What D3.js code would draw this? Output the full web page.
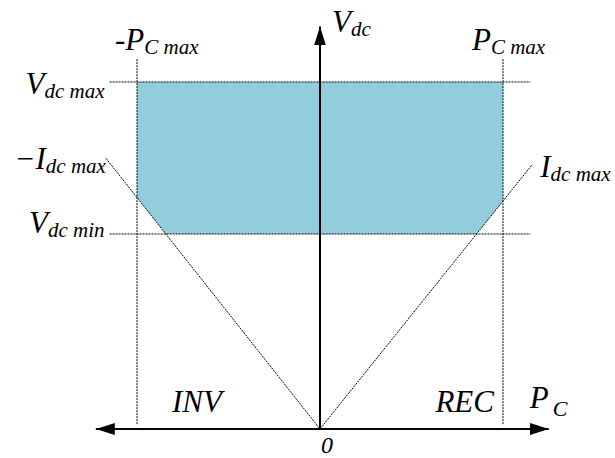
<!DOCTYPE html>
<html lang="en">
    <head>
        <meta charset="utf-8">
        <title>DC voltage / power operating region</title>
        <script src="https://d3js.org/d3.v7.min.js"></script>
        <style type="text/css">
            body {
                margin: 0;
                background: white;
            }
            .axis {
                stroke: black;
                stroke-width: 2px;
            }
            .limit {
                fill: none;
                stroke: black;
                stroke-width: 1px;
                stroke-dasharray: 2 1;
            }
            .region {
                fill: #92cddc;
                stroke: none;
            }
            text {
                font-family: "Liberation Serif", "DejaVu Serif", serif;
                font-style: italic;
                fill: black;
            }
        </style>
    </head>
    <body>
        <script type="text/javascript">

            const w = 615;
            const h = 458;

            // per-unit values
            const pcLimits = [-1, 1];          // -Pc max, Pc max
            const vdcLimits = [0.562, 1];      // Vdc min, Vdc max
            const idcSlopes = [0.667, 0.657];  // Vdc / |Pc| along -Idc max and Idc max
            const idcReach = [-1.17, 1.16];    // how far the current lines run
            const axisReach = {pc: [-1.225, 1.25], vdc: [0, 1.16]};
            const limitReach = {pc: [-1.15, 1.15], vdc: [0.014, 1.066]};
            const modeLabels = ["INV", "REC"];

            const xScale = d3.scaleLinear()
                             .domain([-1, 1])
                             .range([137, 503]);

            const yScale = d3.scaleLinear()
                             .domain([0, 1])
                             .range([429, 82]);

            const svg = d3.select("body")
                    .append("svg")
                    .attr("width", w)
                    .attr("height", h);

            svg.append("defs").append("marker")
               .attr("id", "arrow")
               .attr("viewBox", "0 0 19 12")
               .attr("refX", 19)
               .attr("refY", 6)
               .attr("markerWidth", 19)
               .attr("markerHeight", 12)
               .attr("markerUnits", "userSpaceOnUse")
               .attr("orient", "auto-start-reverse")
               .append("path")
               .attr("d", "M0,0L19,6L0,12Z")
               .attr("fill", "black");

            const line = d3.line()
                .x(d => xScale(d[0]))
                .y(d => yScale(d[1]));

            //operating region
            const [pMin, pMax] = pcLimits;
            const [vMin, vMax] = vdcLimits;
            const [kL, kR] = idcSlopes;
            const region = [
                [pMin, vMax], [pMax, vMax], [pMax, kR * pMax],
                [vMin / kR, vMin], [-vMin / kL, vMin], [pMin, -kL * pMin]
            ];
            svg.append("path")
               .datum(region)
               .attr("class", "region")
               .attr("d", line.curve(d3.curveLinearClosed));
            line.curve(d3.curveLinear);

            //dashed limit lines
            const limits = [];
            vdcLimits.forEach(v => limits.push([[limitReach.pc[0], v], [limitReach.pc[1], v]]));
            pcLimits.forEach(p => limits.push([[p, limitReach.vdc[0]], [p, limitReach.vdc[1]]]));
            limits.push([[idcReach[0], -kL * idcReach[0]], [0, 0]]);
            limits.push([[0, 0], [idcReach[1], kR * idcReach[1]]]);

            svg.selectAll(".limit")
               .data(limits)
               .join("path")
               .attr("class", "limit")
               .attr("d", line);

            //axes with arrows
            svg.append("path")
               .attr("class", "axis")
               .attr("d", line([[axisReach.pc[0], 0], [axisReach.pc[1], 0]]))
               .attr("marker-start", "url(#arrow)")
               .attr("marker-end", "url(#arrow)");

            svg.append("path")
               .attr("class", "axis")
               .attr("d", line([[0, axisReach.vdc[0]], [0, axisReach.vdc[1]]]))
               .attr("marker-end", "url(#arrow)");

            //labels: main letter + subscript
            function label(x, y, anchor, main, sub) {
                const t = svg.append("text")
                    .attr("x", x)
                    .attr("y", y)
                    .attr("text-anchor", anchor)
                    .style("font-size", "31px");
                t.append("tspan").text(main);
                if (sub) {
                    t.append("tspan")
                     .attr("dy", 4)
                     .style("font-size", "21px")
                     .text(sub);
                }
                return t;
            }

            label(xScale(pMin) - 22, 50, "start", "-P", "C max");
            label(xScale(pMax) - 31, 50, "start", "P", "C max");
            label(xScale(limitReach.pc[0]) - 5, yScale(vMax) + 12, "end", "V", "dc max");
            label(xScale(limitReach.pc[0]) - 5, yScale(vMin) - 1, "end", "V", "dc min");
            label(xScale(idcReach[0]), yScale(-kL * idcReach[0]) + 11, "end", "\u2212I", "dc max");
            label(xScale(idcReach[1]) + 8, yScale(kR * idcReach[1]) + 12, "start", "I", "dc max");
            label(xScale(0) + 12, 32, "start", "V", "dc");

            //axis names
            const pcName = label(xScale(axisReach.pc[1]) - 19, yScale(0) - 21, "start", "P", null);
            pcName.append("tspan")
                  .attr("dx", 4)
                  .attr("dy", 8)
                  .style("font-size", "22px")
                  .text("C");

            svg.append("text")
               .attr("x", xScale(0) + 7)
               .attr("y", yScale(0) + 24)
               .attr("text-anchor", "middle")
               .style("font-size", "24px")
               .text("0");

            //operating modes
            svg.append("text")
               .attr("x", xScale(pMin) + 60)
               .attr("y", yScale(0) - 17)
               .attr("text-anchor", "middle")
               .style("font-size", "31px")
               .text(modeLabels[0]);

            svg.append("text")
               .attr("x", xScale(pMax) - 9)
               .attr("y", yScale(0) - 17)
               .attr("text-anchor", "end")
               .style("font-size", "31px")
               .text(modeLabels[1]);

        </script>
    </body>
</html>
